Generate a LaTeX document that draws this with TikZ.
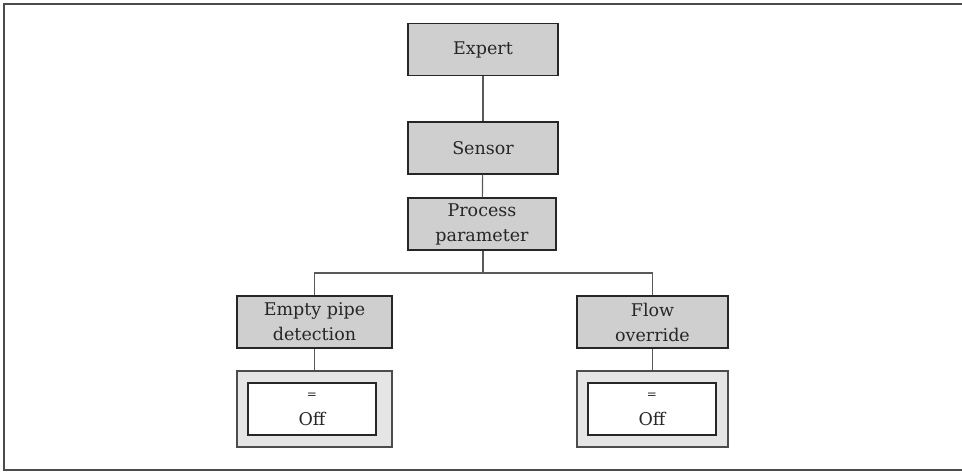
\documentclass[tikz,border=0pt]{standalone}
\usepackage{fontspec}
\setmainfont{DejaVu Serif}
\begin{document}
\begin{tikzpicture}[x=1pt,y=-1pt,
  menu/.style={draw=black!85,line width=1.2pt,fill=black!19,minimum width=150pt,minimum height=52pt,inner sep=0pt,align=center,font=\fontsize{17.5}{25}\selectfont,text=black!85},
  outerbox/.style={draw=black!70,line width=1.2pt,fill=black!10,minimum width=155pt,minimum height=76pt,inner sep=0pt},
  valbox/.style={draw=black!85,line width=1.2pt,fill=white,minimum width=128pt,minimum height=52pt,inner sep=0pt,align=center,font=\fontsize{17.5}{27}\selectfont,text=black!85},
  conn/.style={draw=black!65,line width=1.2pt}]
\useasboundingbox (0,0) rectangle (962,472);
\draw[black!70,line width=2pt] (965,4) -- (4,4) -- (4,470) -- (965,470);
\node[menu] (expert) at (483,49.5) {Expert};
\node[menu] (sensor) at (483,148) {Sensor};
\node[menu,minimum width=148pt] (proc) at (482,224) {Process\\parameter};
\node[menu,minimum width=155pt] (empty) at (314.5,322) {Empty pipe\\detection};
\node[menu,minimum width=151pt] (flow) at (652.5,322) {Flow\\override};
\node[outerbox] (eo) at (314.5,409) {};
\node[valbox] (ev) at (312,409) {\fontsize{12}{12}\selectfont =\\Off};
\node[outerbox,minimum width=151pt] (fo) at (652.5,409) {};
\node[valbox] (fv) at (652,409) {\fontsize{12}{12}\selectfont =\\Off};
\coordinate (split) at (483,273);
\draw[conn] (expert) -- (sensor);
\draw[conn] (sensor) -- (proc);
\draw[conn] (proc.south -| split) -- (split);
\draw[conn] (split) -| (empty.north);
\draw[conn] (split) -| (flow.north);
\draw[conn] (empty) -- (eo);
\draw[conn] (flow) -- (fo);
\end{tikzpicture}
\end{document}
